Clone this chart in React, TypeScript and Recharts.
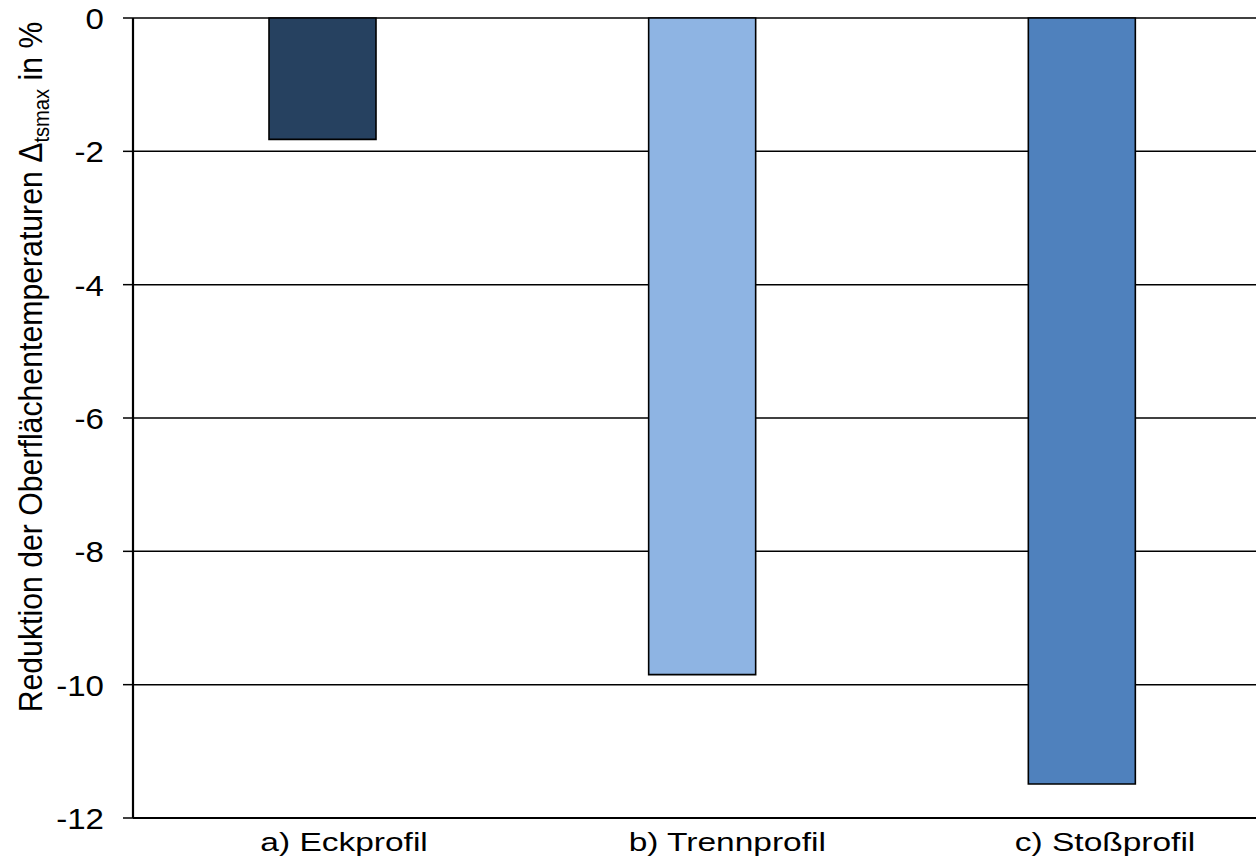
import React from 'react';
import { BarChart, Bar, XAxis, YAxis, CartesianGrid, Cell } from 'recharts';

const categories = ['a) Eckprofil', 'b) Trennprofil', 'c) Stoßprofil'];
const reduction = [-1.82, -9.85, -11.49];
const barColors = ['#264160', '#8EB4E3', '#4F81BD'];
const yTicks = [0, -2, -4, -6, -8, -10, -12];

const data = categories.map((name, i) => ({ name, value: reduction[i] }));

const FONT = '"Liberation Sans", Arial, sans-serif';

// the source picture has its texts stretched along the baseline, measure to mimic that
let ctx: CanvasRenderingContext2D | null = null;
const textWidth = (s: string, size: number) => {
  if (!ctx) ctx = document.createElement('canvas').getContext('2d');
  if (!ctx) return s.length * size * 0.55;
  ctx.font = `${size}px "Liberation Sans", Arial, sans-serif`;
  return ctx.measureText(s).width;
};

const XTick = (props: any) => {
  const { x, y, payload } = props;
  const size = 25;
  const w = textWidth(payload.value, size);
  return (
    <text
      transform={`translate(${x - w / 2}, ${y + 33}) scale(1.34, 1)`}
      textAnchor="start"
      fontFamily={FONT}
      fontSize={size}
      fill="#000"
    >
      {payload.value}
    </text>
  );
};

const YTick = (props: any) => {
  const { x, y, payload } = props;
  return (
    <text
      transform={`translate(${x}, ${y + 11}) scale(1.14, 1)`}
      textAnchor="end"
      fontFamily={FONT}
      fontSize={29}
      fill="#000"
    >
      {payload.value}
    </text>
  );
};

const YLabel = (props: any) => {
  const vb = props.viewBox || {};
  const main = 'Reduktion der Oberflächentemperaturen Δ';
  const sub = 'tsmax';
  const tail = ' in %';
  const size = 33;
  const subSize = 22;
  const natural = textWidth(main, size) + textWidth(sub, subSize) + textWidth(tail, size);
  const sx = 691 / natural;
  const cx = vb.x + 42;
  const cy = 367;
  return (
    <text
      transform={`translate(${cx}, ${cy}) rotate(-90) scale(${sx}, 1)`}
      textAnchor="middle"
      fontFamily={FONT}
      fontSize={size}
      fill="#000"
    >
      <tspan>{main}</tspan>
      <tspan fontSize={subSize} dy={7}>{sub}</tspan>
      <tspan dy={-7}>{tail}</tspan>
    </text>
  );
};

const App: React.FC = () => {
  return (
    <div style={{ position: 'absolute', left: 0, top: 0, width: 1256, height: 859, overflow: 'hidden', background: '#fff' }}>
      <BarChart width={1300} height={859} data={data} margin={{ top: 18, right: 28, bottom: 0, left: 0 }}>
        <CartesianGrid vertical={false} stroke="#000" strokeWidth={1.5} />
        <XAxis
          dataKey="name"
          height={41}
          tickLine={false}
          tickSize={0}
          tickMargin={0}
          axisLine={{ stroke: '#000', strokeWidth: 1.8 }}
          tick={<XTick />}
          interval={0}
        />
        <YAxis
          width={133}
          domain={[-12, 0]}
          ticks={yTicks}
          interval={0}
          tickSize={10}
          tickMargin={19}
          axisLine={{ stroke: '#000', strokeWidth: 2.2 }}
          tickLine={{ stroke: '#000', strokeWidth: 1.5 }}
          tick={<YTick />}
          label={{ content: YLabel }}
        />
        <Bar dataKey="value" barSize={107} stroke="#000" strokeWidth={1.6} isAnimationActive={false}>
          {data.map((d, i) => (
            <Cell key={d.name} fill={barColors[i]} />
          ))}
        </Bar>
      </BarChart>
    </div>
  );
};

export default App;
